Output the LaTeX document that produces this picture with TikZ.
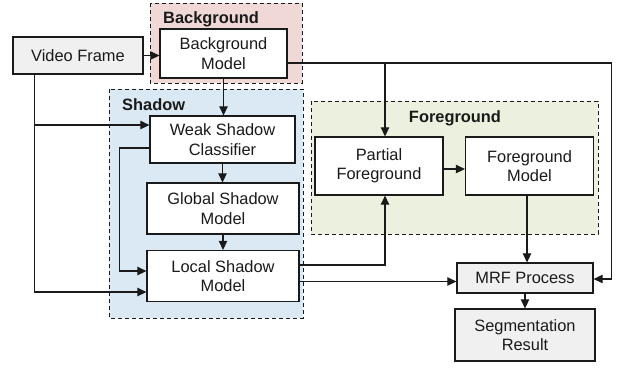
\documentclass[tikz,border=0pt]{standalone}
\usepackage{fontspec}
\setmainfont{Liberation Sans}
\usetikzlibrary{arrows.meta}
\definecolor{bgpink}{HTML}{F0D8D7}
\definecolor{shblue}{HTML}{DAE9F4}
\definecolor{fggreen}{HTML}{EBF1DE}
\definecolor{boxgray}{HTML}{F0F0F0}
\definecolor{ink}{HTML}{1A1A1A}
\tikzset{
  box/.style={draw=ink, line width=1.3pt, fill=white, rectangle, inner sep=0pt, align=center, text=ink},
  graybox/.style={box, fill=boxgray},
  region/.style={draw=ink, line width=1pt, dash pattern=on 4pt off 3pt},
  regionlabel/.style={font=\fontsize{16.4}{19.5}\selectfont\bfseries, text=ink, inner sep=0pt},
  arr/.style={draw=ink, line width=1.2pt, -{Triangle[length=9pt,width=8.5pt]}},
  ln/.style={draw=ink, line width=1.2pt}
}
\begin{document}
\begin{tikzpicture}[x=1pt,y=-1pt,font=\fontsize{16.4}{19.5}\selectfont]
\useasboundingbox (0,0) rectangle (621,368);
\fill[white] (0,0) rectangle (621,368);
% regions
\draw[region, fill=bgpink] (150,3) rectangle (302,83);
\draw[region, fill=shblue] (109,89) rectangle (303,318);
\draw[region, fill=fggreen] (311,101) rectangle (598,234);
\node[regionlabel, anchor=west] (bglab) at (163,19) {Background};
\node[regionlabel, anchor=west] (shlab) at (122,105) {Shadow};
\node[regionlabel] (fglab) at (455,118) {Foreground};
% nodes
\node[graybox, minimum width=130pt, minimum height=37pt] (vf) at (78,55.5) {Video Frame};
\node[box, minimum width=127pt, minimum height=49pt] (bgm) at (223.5,53.5) {Background\\Model};
\node[box, minimum width=145pt, minimum height=47pt] (wsc) at (222.5,139.5) {Weak Shadow\\Classifier};
\node[box, minimum width=152pt, minimum height=51pt] (gsm) at (223,208.5) {Global Shadow\\Model};
\node[box, minimum width=152pt, minimum height=51pt] (lsm) at (223,276) {Local Shadow\\Model};
\node[box, minimum width=128pt, minimum height=58pt] (pf) at (379,166) {Partial\\Foreground};
\node[box, minimum width=128pt, minimum height=58pt] (fm) at (529.5,166) {Foreground\\Model};
\node[graybox, minimum width=136pt, minimum height=30pt] (mrf) at (525,278) {MRF Process};
\node[graybox, minimum width=140pt, minimum height=52pt] (seg) at (525,335) {Segmentation\\Result};
% helper coordinates
\coordinate (vfx) at ([xshift=22pt]vf.south west);
\coordinate (wscin) at ([yshift=14.5pt]wsc.west);
\coordinate (lsmin2) at ([yshift=-16pt]lsm.west);
\coordinate (wscout) at ([yshift=-8.5pt]wsc.west);
\coordinate (lsmin1) at ([yshift=5pt]lsm.west);
\coordinate (bgr) at ([yshift=-9.5pt]bgm.east);
\coordinate (pft) at ([xshift=6pt]pf.north);
\coordinate (pfb) at ([xshift=6pt]pf.south);
\coordinate (mrfr) at ([yshift=-1pt]mrf.east);
\coordinate (lsmo1) at ([yshift=11pt]lsm.east);
\coordinate (lsmo2) at ([yshift=-5.5pt]lsm.east);
\coordinate (fmb) at ([xshift=-2.5pt]fm.south);
% connectors
\draw[arr] (vf.east) -- (vf.east -| bgm.west);
\draw[arr] (bgm.south) -- (wsc.north -| bgm.south);
\draw[arr] (vfx) |- (wscin);
\draw[arr] (vfx) |- (lsmin2);
\draw[arr] (wscout) -- ++(-30,0) |- (lsmin1);
\draw[arr] (wsc.south) -- (gsm.north -| wsc.south);
\draw[arr] (gsm.south) -- (lsm.north);
\draw[arr] (bgr) -| ([xshift=18pt]mrfr) -- (mrfr);
\draw[arr] (bgr -| pft) -- (pft);
\draw[arr] (lsmo1) -| (pfb);
\draw[arr] (lsmo2) -- (lsmo2 -| mrf.west);
\draw[arr] ([yshift=-3pt]pf.east) -- ([yshift=-3pt]fm.west);
\draw[arr] (fmb) -- (fmb |- mrf.north);
\draw[arr] (mrf.south) -- (seg.north);
\end{tikzpicture}
\end{document}
